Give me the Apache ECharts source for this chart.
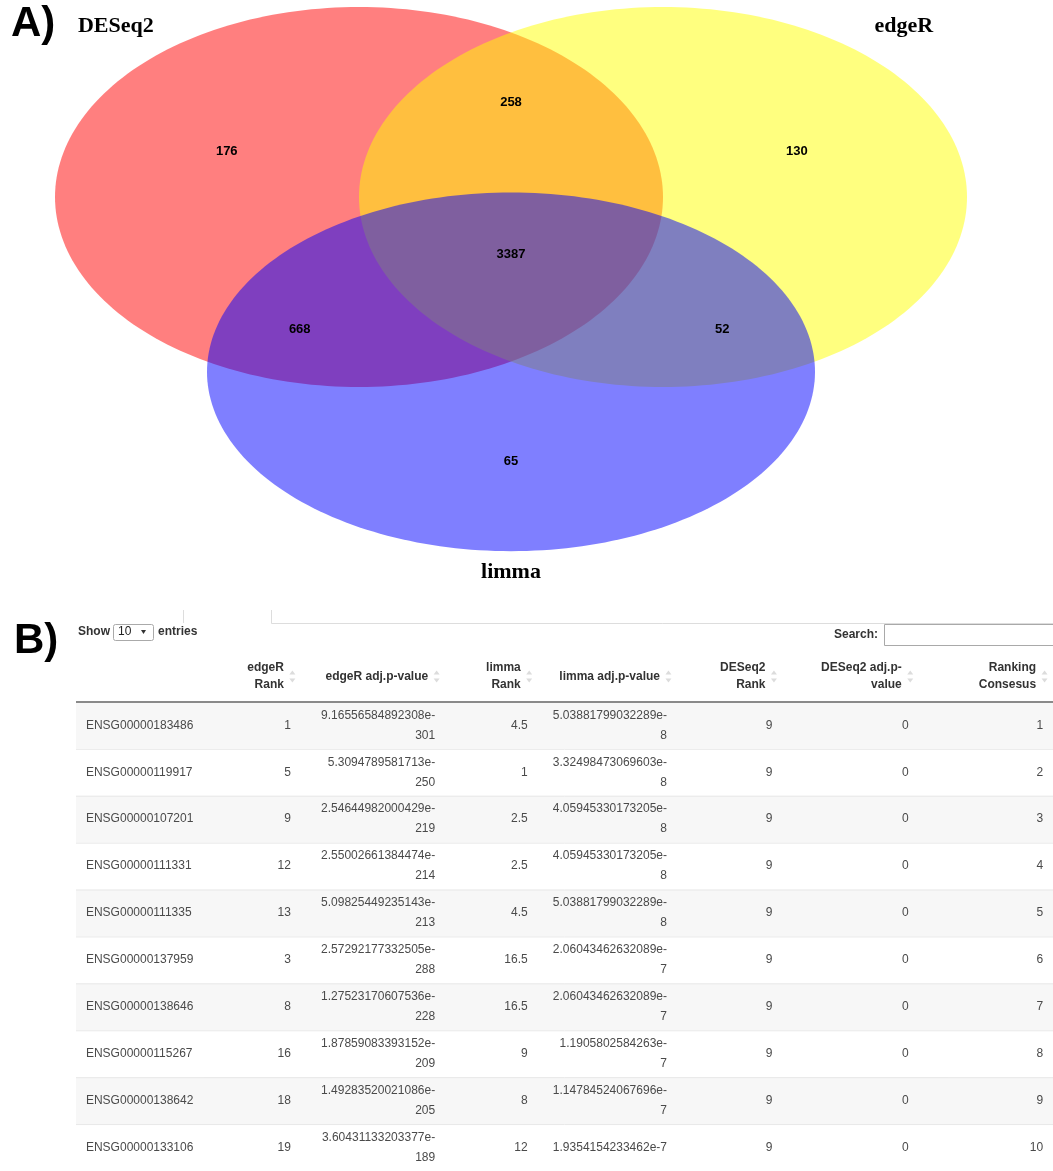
<!DOCTYPE html>
<html>
<head>
<meta charset="utf-8">
<title>DE gene overlap and ranking</title>
<script src="https://cdn.jsdelivr.net/npm/echarts@6/dist/echarts.min.js"></script>
<style>
  html, body { margin: 0; padding: 0; background: #ffffff; }
  #chart { width: 1053px; height: 1171px; }
</style>
</head>
<body>
<div id="chart"></div>
<script>
// ---------- Venn diagram data ----------
const setNames = ['DESeq2', 'edgeR', 'limma'];
const regionNames = ['DESeq2 only', 'DESeq2 & edgeR', 'edgeR only', 'all three',
                     'DESeq2 & limma', 'edgeR & limma', 'limma only'];
const regionCounts = [176, 258, 130, 3387, 668, 52, 65];

// ---------- Ranking table data ----------
const geneIds = ['ENSG00000183486', 'ENSG00000119917', 'ENSG00000107201', 'ENSG00000111331',
                 'ENSG00000111335', 'ENSG00000137959', 'ENSG00000138646', 'ENSG00000115267',
                 'ENSG00000138642', 'ENSG00000133106'];
const edgeRRank = [1, 5, 9, 12, 13, 3, 8, 16, 18, 19];
const edgeRPval = ['9.16556584892308e-301', '5.3094789581713e-250', '2.54644982000429e-219',
                   '2.55002661384474e-214', '5.09825449235143e-213', '2.57292177332505e-288',
                   '1.27523170607536e-228', '1.87859083393152e-209', '1.49283520021086e-205',
                   '3.60431133203377e-189'];
const limmaRank = [4.5, 1, 2.5, 2.5, 4.5, 16.5, 16.5, 9, 8, 12];
const limmaPval = ['5.03881799032289e-8', '3.32498473069603e-8', '4.05945330173205e-8',
                   '4.05945330173205e-8', '5.03881799032289e-8', '2.06043462632089e-7',
                   '2.06043462632089e-7', '1.1905802584263e-7', '1.14784524067696e-7',
                   '1.9354154233462e-7'];
const deseq2Rank = [9, 9, 9, 9, 9, 9, 9, 9, 9, 9];
const deseq2Pval = [0, 0, 0, 0, 0, 0, 0, 0, 0, 0];
const consensusRank = [1, 2, 3, 4, 5, 6, 7, 8, 9, 10];
const columnHeaders = [[''], ['edgeR', 'Rank'], ['edgeR adj.p-value'], ['limma', 'Rank'],
                       ['limma adj.p-value'], ['DESeq2', 'Rank'], ['DESeq2 adj.p-', 'value'],
                       ['Ranking', 'Consesus']];

// ---------- Layout ----------
// Ellipses in Venn units (centre, semi-axes) and fill colours, drawn in order
const vennShapes = [
  { cx: -1, cy: 0.6,   rx: 2.0, ry: 1.25, fill: 'rgba(255,0,0,0.5)' },
  { cx:  1, cy: 0.6,   rx: 2.0, ry: 1.25, fill: 'rgba(255,255,0,0.5)' },
  { cx:  0, cy: -0.55, rx: 2.0, ry: 1.18, fill: 'rgba(0,0,255,0.5)' }
];
const regionAnchors = [[-1.87, 0.9], [0, 1.225], [1.88, 0.9], [0, 0.225],
                       [-1.39, -0.27], [1.39, -0.27], [0, -1.14]];
const setNameAnchors = [[-2.6, 1.72], [2.585, 1.72], [0, -1.867]];

// Table columns: right edge of each column in table units
const colRight = [150, 226, 371, 464, 604, 710, 847, 982];
const tableWidth = 982;
const cellPad = 10;
// p-value cells that fit on a single line
const oneLineCells = [[9, 4]];

const tableColumns = [geneIds, edgeRRank, edgeRPval, limmaRank, limmaPval,
                      deseq2Rank, deseq2Pval, consensusRank];

function cellText(v, row, col) {
  const s = String(v);
  const single = oneLineCells.some(([r, c]) => r === row && c === col);
  if (!single && s.indexOf('e-') > 0) {
    const i = s.indexOf('e-') + 2;
    return s.slice(0, i) + '\n' + s.slice(i);
  }
  return s;
}

const tableCells = [];
for (let r = 0; r < geneIds.length; r++) {
  for (let c = 0; c < tableColumns.length; c++) {
    tableCells.push({ row: r, col: c, text: cellText(tableColumns[c][r], r, c) });
  }
}

const SANS = '"Liberation Sans", Arial, Helvetica, sans-serif';
const SERIF = '"Liberation Serif", "Times New Roman", serif';

const chart = echarts.init(document.getElementById('chart'), null, { renderer: 'canvas', width: 1053, height: 1171 });

const option = {
  animation: false,
  backgroundColor: '#ffffff',
  grid: [
    { left: 9.4, top: 7, width: 1003.2, height: 577.6 },
    { left: 76, top: 655, width: 982, height: 520.3 }
  ],
  xAxis: [
    { type: 'value', gridIndex: 0, min: -3.3, max: 3.3, show: false },
    { type: 'value', gridIndex: 1, min: 0, max: tableWidth, show: false }
  ],
  yAxis: [
    { type: 'value', gridIndex: 0, min: -1.95, max: 1.85, show: false },
    { type: 'value', gridIndex: 1, min: -1, max: 10, inverse: true, show: false }
  ],
  series: [
    // Venn ellipses
    {
      type: 'custom', xAxisIndex: 0, yAxisIndex: 0,
      data: vennShapes.map(s => [s.cx, s.cy]),
      renderItem(params, api) {
        const s = vennShapes[params.dataIndex];
        const pts = [];
        for (let k = 0; k < 240; k++) {
          const t = (k / 240) * Math.PI * 2;
          pts.push(api.coord([s.cx + s.rx * Math.cos(t), s.cy + s.ry * Math.sin(t)]));
        }
        return { type: 'polygon', shape: { points: pts }, style: { fill: s.fill } };
      }
    },
    // region counts
    {
      type: 'custom', xAxisIndex: 0, yAxisIndex: 0,
      data: regionCounts.map((v, i) => [regionAnchors[i][0], regionAnchors[i][1], v]),
      renderItem(params, api) {
        const p = api.coord([api.value(0), api.value(1)]);
        return {
          type: 'text',
          style: { text: String(api.value(2)), x: p[0], y: p[1], align: 'center', verticalAlign: 'middle',
                   font: 'bold 13px ' + SANS, fill: '#000' }
        };
      }
    },
    // set names
    {
      type: 'custom', xAxisIndex: 0, yAxisIndex: 0,
      data: setNames.map((n, i) => [setNameAnchors[i][0], setNameAnchors[i][1]]),
      renderItem(params, api) {
        const p = api.coord([api.value(0), api.value(1)]);
        return {
          type: 'text',
          style: { text: setNames[params.dataIndex], x: p[0], y: p[1], align: 'center', verticalAlign: 'middle',
                   font: 'bold 22px ' + SERIF, fill: '#000' }
        };
      }
    },
    // table row backgrounds and borders
    {
      type: 'custom', xAxisIndex: 1, yAxisIndex: 1,
      data: geneIds.map((g, r) => [0, r]),
      renderItem(params, api) {
        const r = params.dataIndex;
        const tl = api.coord([0, r]);
        const br = api.coord([tableWidth, r + 1]);
        const children = [{
          type: 'rect',
          shape: { x: tl[0], y: tl[1], width: br[0] - tl[0], height: br[1] - tl[1] },
          style: { fill: r % 2 === 0 ? '#f7f7f7' : '#ffffff' }
        }];
        if (r === 0) {
          children.push({ type: 'line', shape: { x1: tl[0], y1: tl[1], x2: br[0], y2: tl[1] },
                          style: { stroke: '#8a8a8a', lineWidth: 2 } });
        } else {
          children.push({ type: 'line', shape: { x1: tl[0], y1: tl[1] + 0.5, x2: br[0], y2: tl[1] + 0.5 },
                          style: { stroke: '#e8e8e8', lineWidth: 1 } });
        }
        return { type: 'group', children };
      }
    },
    // table header
    {
      type: 'custom', xAxisIndex: 1, yAxisIndex: 1,
      data: columnHeaders.map((h, c) => [c, -1]),
      renderItem(params, api) {
        const c = params.dataIndex;
        if (c === 0) return null;
        const yc = api.coord([0, -0.5])[1] - 2;
        const xr = api.coord([colRight[c] - 17, 0])[0];
        const xa = api.coord([colRight[c] - 8.5, 0])[0];
        return {
          type: 'group',
          children: [
            { type: 'text', style: { text: columnHeaders[c].join('\n'), x: xr, y: yc, align: 'right',
                                     verticalAlign: 'middle', lineHeight: 17, font: 'bold 12px ' + SANS, fill: '#333' } },
            { type: 'polygon', shape: { points: [[xa - 3, yc - 2], [xa + 3, yc - 2], [xa, yc - 6]] }, style: { fill: '#dcdcdc' } },
            { type: 'polygon', shape: { points: [[xa - 3, yc + 2], [xa + 3, yc + 2], [xa, yc + 6]] }, style: { fill: '#dcdcdc' } }
          ]
        };
      }
    },
    // table cells
    {
      type: 'custom', xAxisIndex: 1, yAxisIndex: 1,
      data: tableCells.map(cell => [cell.col, cell.row]),
      renderItem(params, api) {
        const cell = tableCells[params.dataIndex];
        const yc = api.coord([0, cell.row + 0.5])[1];
        const left = cell.col === 0;
        const x = left ? api.coord([cellPad, 0])[0] : api.coord([colRight[cell.col] - cellPad, 0])[0];
        return {
          type: 'text',
          style: { text: cell.text, x, y: yc, align: left ? 'left' : 'right', verticalAlign: 'middle',
                   lineHeight: 20, font: '12px ' + SANS, fill: '#4a4a4a' }
        };
      }
    }
  ],
  graphic: [
    { type: 'text', left: 11, top: 3, style: { text: 'A)', font: 'bold 42px ' + SANS, fill: '#000' } },
    { type: 'text', left: 14, top: 620, style: { text: 'B)', font: 'bold 42px ' + SANS, fill: '#000' } },
    // table controls
    { type: 'line', shape: { x1: 183.5, y1: 610, x2: 183.5, y2: 623 }, style: { stroke: '#dddddd', lineWidth: 1 } },
    { type: 'polyline', shape: { points: [[271.5, 610], [271.5, 623.5], [1053, 623.5]] }, style: { stroke: '#dddddd', lineWidth: 1, fill: null } },
    { type: 'text', left: 78, top: 626, style: { text: 'Show', font: 'bold 12px ' + SANS, fill: '#333' } },
    { type: 'rect', shape: { x: 113.5, y: 624.5, width: 40, height: 16, r: 2 }, style: { fill: '#fff', stroke: '#aaaaaa', lineWidth: 1 } },
    { type: 'text', left: 118, top: 626, style: { text: '10', font: '12px ' + SANS, fill: '#222' } },
    { type: 'polygon', shape: { points: [[141, 630], [146, 630], [143.5, 634]] }, style: { fill: '#333' } },
    { type: 'text', left: 158, top: 626, style: { text: 'entries', font: 'bold 12px ' + SANS, fill: '#333' } },
    { type: 'text', right: 175, top: 629, style: { text: 'Search:', font: 'bold 12px ' + SANS, fill: '#333', align: 'right' } },
    { type: 'rect', shape: { x: 884.5, y: 624.5, width: 175, height: 21 }, style: { fill: '#fff', stroke: '#a9a9a9', lineWidth: 1 } }
  ]
};

chart.setOption(option);
</script>
</body>
</html>
